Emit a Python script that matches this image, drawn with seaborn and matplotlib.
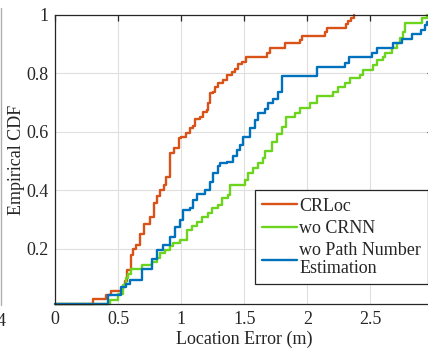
import numpy as np
import pandas as pd
import matplotlib
matplotlib.use("Agg")
import matplotlib.pyplot as plt
import seaborn as sns
from matplotlib.lines import Line2D

methods = ["CRLoc", "wo CRNN", "wo Path Number\nEstimation"]
colors = ["#D95319", "#6CD41C", "#0072BD"]

crloc_x = [0, 0.30, 0.40, 0.44, 0.53, 0.55, 0.57, 0.60, 0.62, 0.64, 0.67, 0.70, 0.75, 0.78,
           0.81, 0.83, 0.86, 0.88, 0.91, 0.94, 0.98, 1.00, 1.04, 1.07, 1.09, 1.11, 1.15,
           1.17, 1.20, 1.21, 1.23, 1.25, 1.27, 1.29, 1.33, 1.36, 1.40, 1.43, 1.45, 1.48,
           1.51, 1.68, 1.70, 1.82, 1.94, 1.96, 2.14, 2.16, 2.31, 2.32, 2.35, 2.37]
crloc_y = [0.011, 0.028, 0.042, 0.058, 0.071, 0.092, 0.128, 0.18, 0.20, 0.215, 0.25, 0.285,
           0.31, 0.357, 0.38, 0.40, 0.42, 0.447, 0.527, 0.544, 0.578, 0.583, 0.595, 0.612,
           0.62, 0.643, 0.652, 0.669, 0.675, 0.697, 0.732, 0.737, 0.754, 0.768, 0.777,
           0.794, 0.805, 0.813, 0.83, 0.84, 0.855, 0.87, 0.885, 0.902, 0.914, 0.927, 0.94,
           0.956, 0.968, 0.98, 0.988, 1.0]

wocrnn_x = [0, 0.434, 0.50, 0.54, 0.561, 0.579, 0.60, 0.686, 0.765, 0.805, 0.83, 0.87, 0.91,
            0.937, 0.99, 1.043, 1.082, 1.122, 1.162, 1.214, 1.241, 1.294, 1.32, 1.373, 1.386,
            1.506, 1.532, 1.571, 1.611, 1.646, 1.664, 1.717, 1.757, 1.797, 1.829, 1.902,
            1.942, 2.021, 2.075, 2.206, 2.246, 2.30, 2.339, 2.418, 2.444, 2.524, 2.551,
            2.603, 2.617, 2.67, 2.71, 2.736, 2.757, 2.775, 2.908, 2.948]
wocrnn_y = [0.011, 0.027, 0.046, 0.078, 0.10, 0.115, 0.133, 0.144, 0.156, 0.17, 0.186, 0.198,
            0.209, 0.22, 0.232, 0.265, 0.279, 0.293, 0.308, 0.322, 0.34, 0.35, 0.373, 0.385,
            0.419, 0.436, 0.458, 0.476, 0.495, 0.51, 0.536, 0.566, 0.593, 0.618, 0.65, 0.663,
            0.68, 0.697, 0.722, 0.737, 0.752, 0.768, 0.783, 0.794, 0.811, 0.828, 0.845,
            0.857, 0.87, 0.885, 0.902, 0.919, 0.942, 0.97, 0.988, 1.0]

wopath_x = [0, 0.42, 0.52, 0.56, 0.59, 0.686, 0.765, 0.805, 0.857, 0.91, 0.95, 0.99, 1.016,
            1.069, 1.095, 1.122, 1.188, 1.228, 1.254, 1.294, 1.307, 1.36, 1.413, 1.44, 1.466,
            1.492, 1.545, 1.585, 1.611, 1.664, 1.69, 1.73, 1.77, 1.80, 2.075, 2.30, 2.333,
            2.511, 2.551, 2.683, 2.75, 2.829, 2.90, 2.934, 2.95, 3.0]
wopath_y = [0.011, 0.044, 0.069, 0.08, 0.095, 0.133, 0.164, 0.196, 0.213, 0.242, 0.276, 0.299,
            0.333, 0.339, 0.367, 0.387, 0.401, 0.43, 0.458, 0.483, 0.493, 0.498, 0.518,
            0.538, 0.555, 0.583, 0.612, 0.64, 0.663, 0.677, 0.697, 0.711, 0.737, 0.79,
            0.822, 0.836, 0.855, 0.87, 0.885, 0.902, 0.916, 0.934, 0.948, 0.965, 0.975, 1.0]

x_ticks = [0, 0.5, 1, 1.5, 2, 2.5]
x_tick_labels = ["0", "0.5", "1", "1.5", "2", "2.5"]
y_ticks = [0.2, 0.4, 0.6, 0.8, 1.0]
y_tick_labels = ["0.2", "0.4", "0.6", "0.8", "1"]

frames = []
for name, xs, ys in zip(methods, [crloc_x, wocrnn_x, wopath_x], [crloc_y, wocrnn_y, wopath_y]):
    frames.append(pd.DataFrame({"x": xs, "y": ys, "method": name}))
df = pd.concat(frames, ignore_index=True)

sns.set_theme(style="white")
plt.rcParams["font.family"] = ["Liberation Serif", "DejaVu Serif"]

W, H = 428, 356
fig = plt.figure(figsize=(W / 100, H / 100), dpi=100)
left_px, right_px, top_px, bot_px = 55.3, 433.3, 14.7, 304.3
ax = fig.add_axes([left_px / W, 1 - bot_px / H, (right_px - left_px) / W, (bot_px - top_px) / H])

sns.lineplot(data=df, x="x", y="y", hue="method", hue_order=methods, palette=colors,
             estimator=None, sort=False, drawstyle="steps-post", linewidth=1.7, ax=ax,
             legend=True)
for ln in ax.get_lines():
    ln.set_clip_on(False)

ax.set_xlim(0, 3)
ax.set_ylim(0.011, 1)
ax.set_xticks(x_ticks)
ax.set_xticklabels(x_tick_labels)
ax.set_yticks(y_ticks)
ax.set_yticklabels(y_tick_labels)
ax.grid(True, color="#dfdfdf", linewidth=0.8)
ax.set_axisbelow(True)
for s in ax.spines.values():
    s.set_color("#262626")
    s.set_linewidth(0.9)
ax.tick_params(direction="in", length=4, width=0.9, color="#262626", labelsize=13,
               labelcolor="#262626", top=True, right=True, pad=5)
ax.set_xlabel("Location Error (m)", fontsize=13, color="#262626", labelpad=2)
ax.set_ylabel("Empirical CDF", fontsize=13, color="#262626", labelpad=1)

handles = [Line2D([0], [0], color=c, lw=1.7) for c in colors]
leg = ax.legend(handles, methods, loc="upper left", bbox_to_anchor=(0.5275, 0.3936),
                borderaxespad=0, fontsize=13, handlelength=1.95, handletextpad=0.12,
                borderpad=0.4, labelspacing=0.3, frameon=True, fancybox=False,
                framealpha=1, edgecolor="#262626")
leg.get_frame().set_linewidth(0.9)
for t in leg.get_texts():
    t.set_color("#262626")
    t.set_linespacing(1.05)

# sliver of neighbouring panel at the left edge
fig.add_artist(Line2D([1 / W, 1 / W], [1 - 305 / H, 1 - 8 / H], color="#b0b0b0", lw=1))
fig.text(-3 / W, 1 - 321 / H, "4", fontsize=13, color="#262626", ha="left", va="center")

fig.savefig("out.png", dpi=100)
